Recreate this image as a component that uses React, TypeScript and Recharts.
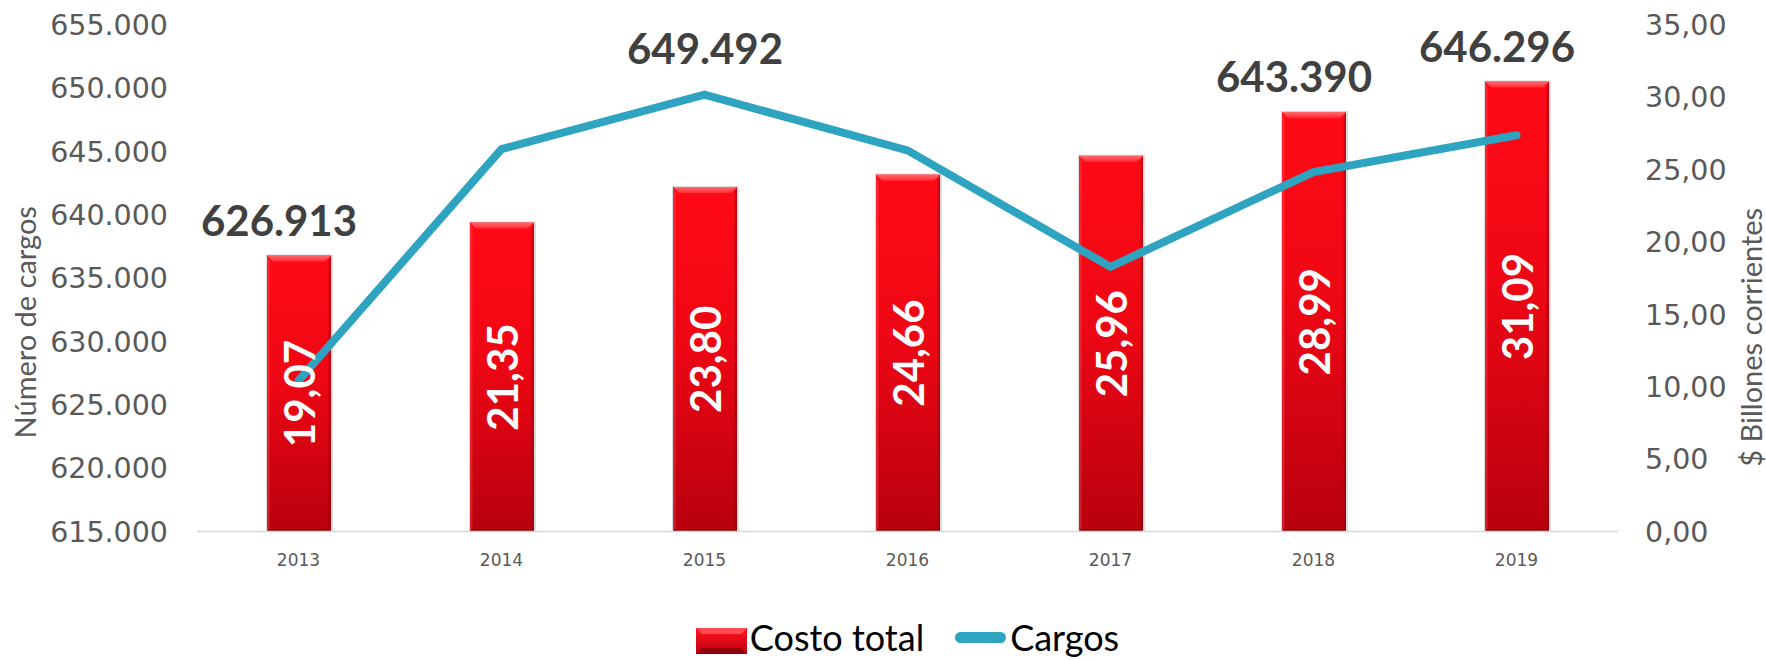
import React from 'react';
import { ComposedChart, Bar, Line, XAxis, YAxis, Legend, LabelList } from 'recharts';

// ---- data ----
const years = ['2013', '2014', '2015', '2016', '2017', '2018', '2019'];
const costoTotal = [19.07, 21.35, 23.8, 24.66, 25.96, 28.99, 31.09];
const cargos = [626913, 645200, 649492, 645100, 635900, 643390, 646296];
const cargosLabelYears = ['2013', '2015', '2018', '2019'];
const leftTicks = [615000, 620000, 625000, 630000, 635000, 640000, 645000, 650000, 655000];
const rightTicks = [0, 5, 10, 15, 20, 25, 30, 35];
const LEFT_DOMAIN: [number, number] = [615000, 655000];
const RIGHT_DOMAIN: [number, number] = [0, 35];

const data = years.map((y, i) => ({ year: y, costo: costoTotal[i], cargos: cargos[i] }));

// ---- styles ----
const LINE_COLOR = '#2fa4c0';
const AXIS_TEXT = '#595959';
const TICK_FONT = 'DejaVu Sans, Verdana, sans-serif';
const LABEL_FONT = 'Lato, Carlito, Calibri, sans-serif';

const fmtThousands = (v: number) => String(Math.round(v)).replace(/\B(?=(\d{3})+(?!\d))/g, '.');
const fmtDec = (v: number) => Number(v).toFixed(2).replace('.', ',');

const BevelBar = (props: any) => {
  const { x, y, width: w, height: h } = props;
  if (!h || h <= 0) return null;
  const b = 6;
  const s = 2.5;
  return (
    <g>
      <rect x={x - 1} y={y - 1} width={w + 3} height={h + 1} fill="#9a9a9a" opacity={0.35} />
      <rect x={x} y={y} width={w} height={h} fill="url(#barBody)" />
      <polygon points={`${x},${y} ${x + w},${y} ${x + w - b},${y + b} ${x + b},${y + b}`} fill="url(#barTop)" />
      <polygon points={`${x},${y} ${x + s},${y + b} ${x + s},${y + h - s} ${x},${y + h}`} fill="#ff5a60" opacity={0.35} />
      <polygon points={`${x + w},${y} ${x + w - s},${y + b} ${x + w - s},${y + h - s} ${x + w},${y + h}`} fill="#700008" opacity={0.35} />
      <polygon points={`${x},${y + h} ${x + s},${y + h - s} ${x + w - s},${y + h - s} ${x + w},${y + h}`} fill="#6a0006" opacity={0.6} />
    </g>
  );
};

const InnerLabel = (props: any) => {
  const { x, y, width, height, value } = props;
  const cx = x + width / 2;
  const cy = y + height / 2;
  return (
    <text
      x={cx}
      y={cy}
      transform={`rotate(-90 ${cx} ${cy})`}
      textAnchor="middle"
      dominantBaseline="central"
      fill="#ffffff"
      fontFamily={LABEL_FONT}
      fontWeight={700}
      fontSize={42}
    >
      {fmtDec(value)}
    </text>
  );
};

const TopLabel = (props: any) => {
  const { x, y, width, height, index } = props;
  const year = years[index];
  if (!cargosLabelYears.includes(year)) return null;
  const cost = costoTotal[index];
  const cargo = cargos[index];
  const bottom = y + height;
  const plotH = (height * (RIGHT_DOMAIN[1] - RIGHT_DOMAIN[0])) / cost;
  const lineY = bottom - ((cargo - LEFT_DOMAIN[0]) / (LEFT_DOMAIN[1] - LEFT_DOMAIN[0])) * plotH;
  const aboveLine = lineY < y;
  const ly = aboveLine ? lineY - 47 : y - 36;
  const lx = x + width / 2 + (aboveLine ? 0 : -20);
  return (
    <text
      x={lx}
      y={ly}
      textAnchor="middle"
      dominantBaseline="central"
      fill="#404040"
      fontFamily={LABEL_FONT}
      fontWeight={700}
      fontSize={42}
    >
      {fmtThousands(cargo)}
    </text>
  );
};

const LeftTitle = (props: any) => {
  const vb = props.viewBox || { x: 0, y: 25, width: 197, height: 506 };
  const cx = vb.x + 24;
  const cy = vb.y + vb.height / 2 + 44;
  return (
    <text x={cx} y={cy} transform={`rotate(-90 ${cx} ${cy})`} textAnchor="middle" dominantBaseline="central"
      fill={AXIS_TEXT} fontFamily={LABEL_FONT} fontSize={29}>
      Número de cargos
    </text>
  );
};

const RightTitle = (props: any) => {
  const vb = props.viewBox || { x: 1618, y: 25, width: 148, height: 506 };
  const cx = vb.x + 132;
  const cy = vb.y + vb.height / 2 + 59;
  return (
    <text x={cx} y={cy} transform={`rotate(-90 ${cx} ${cy})`} textAnchor="middle" dominantBaseline="central"
      fill={AXIS_TEXT} fontFamily={LABEL_FONT} fontSize={29}>
      $ Billones corrientes
    </text>
  );
};

const renderLegend = (props: any) => {
  const payload = [...(props.payload || [])].sort(
    (a: any, b: any) => (a.type === 'line' ? 1 : 0) - (b.type === 'line' ? 1 : 0)
  );
  return (
    <div style={{ display: 'flex', justifyContent: 'center', alignItems: 'flex-start', height: 40, width: '100%' }}>
      {payload.map((entry: any, i: number) => {
        const isLine = entry.type === 'line';
        return (
          <div key={i} style={{ display: 'flex', alignItems: 'flex-start', marginLeft: i > 0 ? 31 : 0 }}>
            {isLine ? (
              <div style={{ width: 51, height: 11, marginTop: 15, borderRadius: 6, background: LINE_COLOR }} />
            ) : (
              <svg width={51} height={26} style={{ marginTop: 11, display: 'block' }}>
                <rect x={0} y={0} width={51} height={26} fill="url(#legendBody)" />
                <polygon points="0,0 51,0 45,6 6,6" fill="#ff4b52" />
                <polygon points="0,26 6,20 45,20 51,26" fill="#7a0008" opacity={0.7} />
              </svg>
            )}
            <span style={{ fontFamily: LABEL_FONT, fontSize: 36, lineHeight: '40px', color: '#000', marginLeft: isLine ? 4 : 3 }}>
              {entry.value}
            </span>
          </div>
        );
      })}
    </div>
  );
};

export default function App() {
  return (
    <div style={{ position: 'absolute', left: 0, top: 0, width: 1766, height: 660, overflow: 'hidden', background: '#ffffff' }}>
      <ComposedChart width={1766} height={660} data={data} margin={{ top: 25, right: 0, bottom: 0, left: 0 }}>
        <defs>
          <linearGradient id="barBody" x1="0" y1="0" x2="0" y2="1">
            <stop offset="0%" stopColor="#ff0a16" />
            <stop offset="45%" stopColor="#ee0714" />
            <stop offset="100%" stopColor="#b8000e" />
          </linearGradient>
          <linearGradient id="barTop" x1="0" y1="0" x2="0" y2="1">
            <stop offset="0%" stopColor="#ff6a70" />
            <stop offset="100%" stopColor="#ff2a33" />
          </linearGradient>
          <linearGradient id="legendBody" x1="0" y1="0" x2="0" y2="1">
            <stop offset="0%" stopColor="#ff1420" />
            <stop offset="100%" stopColor="#c2000f" />
          </linearGradient>
        </defs>
        <XAxis
          dataKey="year"
          height={88.5}
          interval={0}
          axisLine={{ stroke: '#d9d9d9', strokeWidth: 1.5 }}
          tickLine={false}
          tickSize={0}
          tickMargin={22}
          tick={{ fill: AXIS_TEXT, fontSize: 17, fontFamily: TICK_FONT }}
        />
        <YAxis
          yAxisId="left"
          orientation="left"
          width={197}
          domain={LEFT_DOMAIN}
          ticks={leftTicks}
          allowDataOverflow
          tickFormatter={fmtThousands}
          axisLine={false}
          tickLine={false}
          tickSize={0}
          tickMargin={29}
          tick={{ fill: AXIS_TEXT, fontSize: 28.5, fontFamily: TICK_FONT }}
          label={<LeftTitle />}
        />
        <YAxis
          yAxisId="right"
          orientation="right"
          width={148}
          domain={RIGHT_DOMAIN}
          ticks={rightTicks}
          allowDataOverflow
          tickFormatter={fmtDec}
          axisLine={false}
          tickLine={false}
          tickSize={0}
          tickMargin={27}
          tick={{ fill: AXIS_TEXT, fontSize: 28.5, fontFamily: TICK_FONT }}
          label={<RightTitle />}
        />
        <Legend
          verticalAlign="bottom"
          content={renderLegend}
          wrapperStyle={{ left: 197, width: 1421, height: 40, bottom: 3 }}
        />
        <Bar
          yAxisId="right"
          dataKey="costo"
          name="Costo total"
          barSize={64}
          fill="#e00712"
          shape={<BevelBar />}
          isAnimationActive={false}
        >
          <LabelList dataKey="costo" content={InnerLabel} />
          <LabelList dataKey="cargos" content={TopLabel} />
        </Bar>
        <Line
          yAxisId="left"
          type="linear"
          dataKey="cargos"
          name="Cargos"
          stroke={LINE_COLOR}
          strokeWidth={8}
          strokeLinecap="round"
          dot={false}
          activeDot={false}
          isAnimationActive={false}
        />
      </ComposedChart>
    </div>
  );
}
